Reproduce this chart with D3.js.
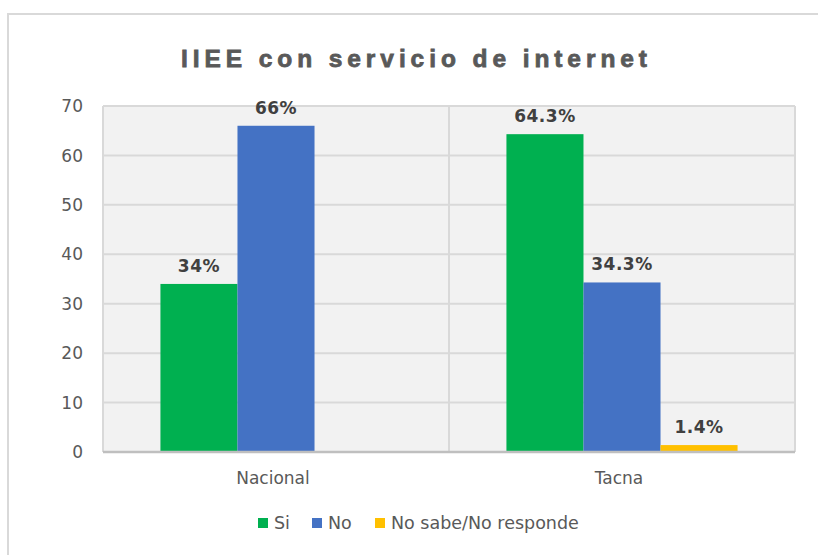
<!DOCTYPE html>
<html>
<head>
<meta charset="utf-8">
<script src="https://cdn.jsdelivr.net/npm/d3@7"></script>
<style>
  html, body { margin: 0; padding: 0; background: #ffffff; }
  svg { display: block; }
</style>
</head>
<body>
<svg id="chart" width="818" height="555"></svg>
<script>
const title = "IIEE con servicio de internet";
const categories = ["Nacional", "Tacna"];
const seriesNames = ["Si", "No", "No sabe/No responde"];
const seriesColors = ["#00b050", "#4472c4", "#ffc000"];
const valuesSi = [34, 64.3];
const valuesNo = [66, 34.3];
const valuesNsnr = [null, 1.4];
const labelsSi = ["34%", "64.3%"];
const labelsNo = ["66%", "34.3%"];
const labelsNsnr = [null, "1.4%"];
const yTicks = [0, 10, 20, 30, 40, 50, 60, 70];

const seriesValues = [valuesSi, valuesNo, valuesNsnr];
const seriesLabels = [labelsSi, labelsNo, labelsNsnr];

const svg = d3.select("#chart");
const font = "'DejaVu Sans', Verdana, sans-serif";

const plot = { left: 103, right: 795, top: 106, bottom: 452 };

// outer chart border
svg.append("rect")
  .attr("x", 8).attr("y", 14).attr("width", 840).attr("height", 580)
  .attr("fill", "#ffffff").attr("stroke", "#d9d9d9").attr("stroke-width", 2);

// title
svg.append("text")
  .attr("x", 414).attr("y", 67)
  .attr("text-anchor", "middle")
  .attr("font-family", "'Liberation Sans', Arial, sans-serif")
  .attr("font-weight", "bold")
  .attr("font-size", 24.5)
  .attr("textLength", 466)
  .attr("lengthAdjust", "spacing")
  .attr("fill", "#595959")
  .attr("stroke", "#595959")
  .attr("stroke-width", 0.8)
  .text(title);

const y = d3.scaleLinear().domain([0, 70]).range([plot.bottom, plot.top]);
const x0 = d3.scaleBand().domain(categories).range([plot.left, plot.right])
  .paddingInner(0.332).paddingOuter(0.166);
const x1 = d3.scaleBand().domain(seriesNames).range([0, x0.bandwidth()]).padding(0);

// plot background
svg.append("rect")
  .attr("x", plot.left).attr("y", plot.top)
  .attr("width", plot.right - plot.left).attr("height", plot.bottom - plot.top)
  .attr("fill", "#f2f2f2");

// gridlines
svg.append("g").selectAll("line").data(yTicks.filter(d => d > 0)).join("line")
  .attr("x1", plot.left).attr("x2", plot.right)
  .attr("y1", d => y(d)).attr("y2", d => y(d))
  .attr("stroke", "#d9d9d9").attr("stroke-width", 2);

// vertical category separators
const step = x0.step();
const sepXs = [plot.left, plot.left + step, plot.right];
svg.append("g").selectAll("line").data(sepXs).join("line")
  .attr("x1", d => d).attr("x2", d => d)
  .attr("y1", plot.top).attr("y2", plot.bottom)
  .attr("stroke", "#d9d9d9").attr("stroke-width", 2);

// bars
const barData = [];
seriesNames.forEach((s, si) => {
  categories.forEach((c, ci) => {
    const v = seriesValues[si][ci];
    if (v !== null && v !== undefined) {
      barData.push({ s, si, c, v, label: seriesLabels[si][ci] });
    }
  });
});

svg.append("g").selectAll("rect").data(barData).join("rect")
  .attr("x", d => x0(d.c) + x1(d.s))
  .attr("y", d => y(d.v))
  .attr("width", x1.bandwidth())
  .attr("height", d => y(0) - y(d.v))
  .attr("fill", d => seriesColors[d.si]);

// baseline
svg.append("line")
  .attr("x1", plot.left).attr("x2", plot.right)
  .attr("y1", y(0)).attr("y2", y(0))
  .attr("stroke", "#bfbfbf").attr("stroke-width", 2.5);

// data labels
svg.append("g").selectAll("text").data(barData).join("text")
  .attr("x", d => x0(d.c) + x1(d.s) + x1.bandwidth() / 2)
  .attr("y", d => y(d.v) - 12)
  .attr("text-anchor", "middle")
  .attr("font-family", font)
  .attr("font-weight", "bold")
  .attr("font-size", 17)
  .attr("letter-spacing", 0.5)
  .attr("fill", "#404040")
  .text(d => d.label);

// y axis labels
svg.append("g").selectAll("text").data(yTicks).join("text")
  .attr("x", 83)
  .attr("y", d => y(d))
  .attr("dy", "0.36em")
  .attr("text-anchor", "end")
  .attr("font-family", font)
  .attr("font-size", 17)
  .attr("fill", "#595959")
  .text(d => d);

// category labels
svg.append("g").selectAll("text").data(categories).join("text")
  .attr("x", d => x0(d) + x0.bandwidth() / 2 - 3)
  .attr("y", 484)
  .attr("text-anchor", "middle")
  .attr("font-family", font)
  .attr("font-size", 17)
  .attr("fill", "#595959")
  .text(d => d);

// legend
const legendX = [258, 312, 375];
const lg = svg.append("g").selectAll("g").data(seriesNames).join("g")
  .attr("transform", (d, i) => `translate(${legendX[i]},523)`);
lg.append("rect")
  .attr("x", 0).attr("y", -5).attr("width", 10).attr("height", 10)
  .attr("fill", (d, i) => seriesColors[i]);
lg.append("text")
  .attr("x", 16).attr("y", 0).attr("dy", "0.36em")
  .attr("font-family", font)
  .attr("font-size", 17.5)
  .attr("fill", "#595959")
  .text(d => d);
</script>
</body>
</html>
